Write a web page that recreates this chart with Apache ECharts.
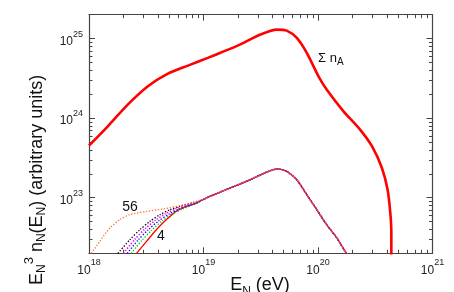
<!DOCTYPE html>
<html><head><meta charset="utf-8">
<script src="https://cdn.jsdelivr.net/npm/echarts@6/dist/echarts.min.js"></script>
<style>html,body{margin:0;padding:0;background:#fff}#c{width:454px;height:292px}</style>
</head><body><div id="c"></div>
<script>
// ---- data (energies in eV, flux in arbitrary units) ----
const sumE = [1.00e18,1.46e18,2.18e18,3.27e18,4.89e18,7.31e18,1.09e19,1.39e19,2.08e19,3.11e19,4.37e19,5.33e19,6.53e19,7.98e19,1.01e20,1.19e20,1.67e20,2.33e20,2.96e20,3.61e20,4.05e20,4.28e20,4.37e20,4.37e20];
const sumN = [4.53e23,7.91e23,1.48e24,2.52e24,3.63e24,4.58e24,5.73e24,6.61e24,8.41e24,1.12e25,1.30e25,1.26e25,1.02e25,6.61e24,3.36e24,2.29e24,1.22e24,7.19e23,4.44e23,2.38e23,1.27e23,6.46e22,3.62e22,1.00e22];

const tailE = [1.00e19,1.14e19,1.70e19,2.55e19,3.56e19,4.42e19,5.33e19,6.53e19,7.98e19,9.77e19,1.19e20,1.46e20,1.76e20,1.86e20];
const tailN = [9.55e22,1.04e23,1.32e23,1.68e23,2.10e23,2.30e23,2.14e23,1.68e23,1.09e23,7.06e22,4.58e22,3.12e22,2.02e22,1.82e22];

const a56E = [1.05e18,1.24e18,1.52e18,1.86e18,2.27e18,3.18e18,4.44e18,6.22e18,7.94e18];
const a56N = [2.00e22,2.82e22,4.16e22,5.30e22,6.12e22,6.73e22,7.21e22,7.93e22,8.61e22];
const blackE = [1.79e18,2.27e18,2.78e18,3.40e18,4.16e18,5.08e18,6.22e18,7.94e18];
const blackN = [2.00e22,2.96e22,3.96e22,5.04e22,6.11e22,7.06e22,7.78e22,8.61e22];
const magE = [2.00e18,2.51e18,3.09e18,3.80e18,4.68e18,5.75e18,7.08e18,8.51e18];
const magN = [2.00e22,2.99e22,4.07e22,5.19e22,6.31e22,7.24e22,7.94e22,8.61e22];
const blueE = [2.16e18,2.69e18,3.31e18,4.07e18,5.01e18,6.17e18,7.59e18,8.91e18];
const blueN = [2.00e22,2.95e22,3.98e22,5.13e22,6.24e22,7.24e22,8.04e22,8.71e22];
const greenE = [2.34e18,2.88e18,3.55e18,4.37e18,5.37e18,6.61e18,7.94e18,9.12e18];
const greenN = [2.00e22,2.88e22,3.94e22,5.13e22,6.31e22,7.24e22,8.04e22,8.81e22];
const a4E = [2.60e18,3.18e18,3.89e18,4.75e18,5.82e18,7.11e18,8.71e18];
const a4N = [2.00e22,2.82e22,3.99e22,5.32e22,6.78e22,7.78e22,8.57e22];

const xTickExps = [18,19,20,21];
const yTickExps = [23,24,25];
const minorMult = [2,3,4,5,6,7,8,9];
const xMin = 1e18, xMax = 1e21, yMin = 2e22, yMax = 2e25;

// ---- helpers ----
const L = Math.log10;
function pts(E, N) { return E.map((e, i) => [L(e), L(N[i])]); }
function withTail(E, N) { return pts(E, N).concat(pts(tailE, tailN)); }
function minorTicks(lo, hi) {
  const out = [];
  for (let d = Math.floor(L(lo)); d <= Math.ceil(L(hi)); d++)
    minorMult.forEach(m => { const v = L(m) + d; if (v > L(lo) + 1e-6 && v < L(hi) - 1e-6) out.push(v); });
  return out;
}
const AX = '#444';
const font = 'Liberation Sans, Arial, sans-serif';
const lblRich = {
  b: { fontSize: 12, fontFamily: font, color: '#222', lineHeight: 18, verticalAlign: 'bottom' },
  s: { fontSize: 9, fontFamily: font, color: '#222', lineHeight: 18, verticalAlign: 'top' }
};
const fmt = v => '{b|10}{s|' + Math.round(v) + '}';

function xAx(pos, major, showLine, showLabel) {
  return {
    type: 'value', position: pos, min: L(xMin), max: L(xMax),
    axisLine: { show: showLine, onZero: false, lineStyle: { color: AX, width: 1.2 } },
    axisTick: { show: true, inside: true, length: major ? 6 : 3.5, customValues: major ? xTickExps : minorTicks(xMin, xMax), lineStyle: { color: AX, width: 1 } },
    axisLabel: { show: showLabel, customValues: xTickExps, formatter: fmt, rich: lblRich, margin: 5 },
    splitLine: { show: false }
  };
}
function yAx(pos, major, showLine, showLabel) {
  return {
    type: 'value', position: pos, min: L(yMin), max: L(yMax),
    axisLine: { show: showLine, onZero: false, lineStyle: { color: AX, width: 1.2 } },
    axisTick: { show: true, inside: true, length: major ? 6 : 3.5, customValues: major ? yTickExps : minorTicks(yMin, yMax), lineStyle: { color: AX, width: 1 } },
    axisLabel: { show: showLabel, customValues: yTickExps, formatter: fmt, rich: lblRich, margin: 6 },
    splitLine: { show: false }
  };
}

function dotted(name, E, N, color, w) {
  return { name, type: 'line', data: withTail(E, N), showSymbol: false, smooth: 0.25,
    lineStyle: { color, width: w || 1.3, type: [1.3, 1.7] }, z: 3, silent: true };
}

const chart = echarts.init(document.getElementById('c'), null, { renderer: 'canvas' });
chart.setOption({
  animation: false,
  backgroundColor: '#fff',
  grid: { left: 89, right: 21.5, top: 14.7, bottom: 38.7, containLabel: false },
  xAxis: [ xAx('bottom', true, true, true), xAx('bottom', false, false, false), xAx('top', true, true, false), xAx('top', false, false, false) ],
  yAxis: [ yAx('left', true, true, true), yAx('left', false, false, false), yAx('right', true, true, false), yAx('right', false, false, false) ],
  series: [
    { name: '4', type: 'line', data: withTail(a4E, a4N), showSymbol: false, smooth: 0.25, lineStyle: { color: '#ff0000', width: 1.3 }, z: 2, silent: true },
    dotted('green', greenE, greenN, '#00cc00'),
    dotted('blue', blueE, blueN, '#0000ff'),
    dotted('magenta', magE, magN, '#ff00ff', 1.6),
    dotted('black', blackE, blackN, '#000000'),
    dotted('56', a56E, a56N, '#ff6a2a'),
    { name: 'sum', type: 'line', data: pts(sumE, sumN), showSymbol: false, smooth: 0.25, lineStyle: { color: '#ff0000', width: 2.6 }, z: 4, silent: true }
  ],
  graphic: [
    { type: 'text', x: 37, y: 285, rotation: Math.PI / 2, style: {
        text: '{b|E}{sub|N}{sup|3}{b| n}{sub|N}{b|(E}{sub|N}{b|) (arbitrary units)}',
        align: 'left', verticalAlign: 'middle',
        rich: {
          b: { fontSize: 18, fontFamily: font, fill: '#111', lineHeight: 28, verticalAlign: 'middle' },
          sub: { fontSize: 12, fontFamily: font, fill: '#111', lineHeight: 28, verticalAlign: 'bottom', padding: [0, 0, 3, 0] },
          sup: { fontSize: 13, fontFamily: font, fill: '#111', lineHeight: 28, verticalAlign: 'top' }
        } } },
    { type: 'text', x: 260, y: 285, style: {
        text: '{b|E}{sub|N}{b| (eV)}', align: 'center', verticalAlign: 'middle',
        rich: {
          b: { fontSize: 18, fontFamily: font, fill: '#111', lineHeight: 26, verticalAlign: 'middle' },
          sub: { fontSize: 12, fontFamily: font, fill: '#111', lineHeight: 26, verticalAlign: 'bottom' }
        } } },
    { type: 'text', x: 318, y: 58, style: {
        text: '{b|Σ n}{sub|A}', align: 'left', verticalAlign: 'middle',
        rich: {
          b: { fontSize: 13, fontFamily: font, fill: '#111', lineHeight: 18, verticalAlign: 'middle' },
          sub: { fontSize: 10, fontFamily: font, fill: '#111', lineHeight: 18, verticalAlign: 'bottom' }
        } } },
    { type: 'text', x: 130, y: 207, style: { text: '56', fontSize: 14, fontFamily: font, fill: '#111', align: 'center', verticalAlign: 'middle' } },
    { type: 'text', x: 161, y: 236, style: { text: '4', fontSize: 14, fontFamily: font, fill: '#111', align: 'center', verticalAlign: 'middle' } }
  ]
});
</script></body></html>
